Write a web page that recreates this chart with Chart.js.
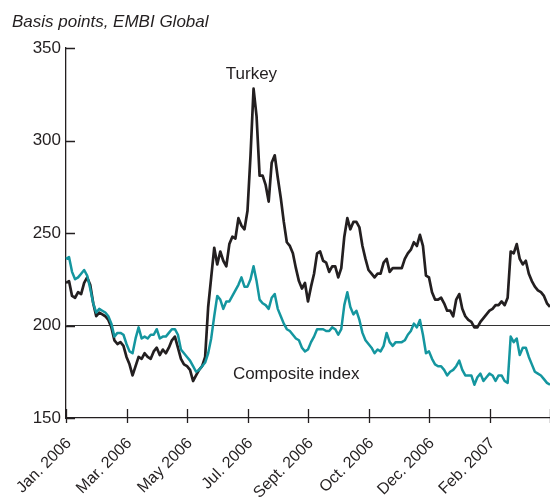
<!DOCTYPE html>
<html>
<head>
<meta charset="utf-8">
<script src="https://cdn.jsdelivr.net/npm/chart.js@4.4.1/dist/chart.umd.min.js"></script>
<style>
  html, body { margin: 0; padding: 0; background: #fff; }
  #wrap { position: relative; width: 550px; height: 498px; }
  canvas { display: block; }
</style>
</head>
<body>
<div id="wrap"><canvas id="c" width="550" height="498"></canvas></div>
<script>
// ---- data ----
const titleText = 'Basis points, EMBI Global';
const tickLabels = ['Jan. 2006', 'Mar. 2006', 'May 2006', 'Jul. 2006', 'Sept. 2006', 'Oct. 2006', 'Dec. 2006', 'Feb. 2007'];
const pointsPerTick = 20;
const categories = Array.from({ length: 161 }, (_, i) => i); // trading-day sample index
const seriesNames = ['Turkey', 'Composite index'];
const turkey = [
  223, 224, 216, 215, 218, 217, 223, 226, 222, 212,
  205, 207, 206, 205, 203, 199, 192, 190, 191, 189,
  183, 179, 173, 178, 183, 182, 185, 183, 182, 186,
  188, 184, 187, 185, 188, 192, 194, 188, 182, 179,
  178, 176, 170, 173, 176, 178, 183, 210, 226, 242,
  233, 240, 235, 232, 244, 248, 247, 258, 254, 252,
  262, 292, 328, 313, 281, 281, 276, 267, 288, 292,
  280, 269, 256, 245, 243, 239, 231, 224, 220, 223,
  213, 221, 228, 239, 240, 235, 234, 229, 232, 232,
  226, 231, 248, 258, 252, 256, 256, 253, 243, 236,
  230, 228, 226, 228, 228, 234, 236, 229, 231, 231,
  231, 231, 236, 239, 241, 245, 243, 249, 243, 227,
  226, 218, 214, 214, 215, 212, 208, 208, 205, 214,
  217, 209, 205, 203, 202, 199, 199, 202, 204, 206,
  208, 209, 211, 211, 213, 211, 215, 240, 239, 244,
  236, 233, 235, 228, 224, 221, 219, 218, 216, 212,
  210
];
const composite = [
  236, 237, 229, 225, 226, 228, 230, 227, 220, 212,
  207, 209, 208, 207, 205, 201, 194, 196, 196, 195,
  190, 186, 185, 193, 199, 193, 194, 193, 195, 195,
  198, 193, 194, 194, 196, 198, 198, 195, 187, 185,
  183, 181, 178, 175, 176, 178, 180, 185, 193, 205,
  216, 214, 209, 213, 213, 216, 219, 222, 226, 221,
  221, 225, 232, 224, 214, 212, 211, 209, 215, 217,
  209, 205, 201, 198, 197, 195, 193, 192, 188, 186,
  187, 191, 194, 198, 198, 198, 197, 197, 199, 198,
  195, 198, 211, 218, 210, 206, 208, 203, 196, 192,
  190, 188, 185, 187, 186, 189, 196, 191, 189, 191,
  191, 191, 192, 195, 197, 201, 199, 203, 195, 185,
  186, 182, 179, 178, 178, 176, 173, 175, 176, 178,
  181, 176, 173, 173, 173, 168, 172, 174, 170, 172,
  174, 173, 170, 173, 173, 170, 169, 194, 191, 193,
  184, 188, 188, 183, 179, 175, 174, 173, 171, 169,
  168
];
const yMin = 150, yMax = 350, yStep = 50, refLine = 200;

// ---- styling ----
const FONT = "'Liberation Sans', Arial, Helvetica, sans-serif";
const INK = '#231f20';
const TEAL = '#14969f';

const tickMarksAndLabels = {
  id: 'tickMarksAndLabels',
  afterDraw(chart) {
    const { ctx, chartArea, scales: { x, y } } = chart;
    ctx.save();
    ctx.strokeStyle = INK;
    ctx.lineWidth = 1.3;
    ctx.beginPath();
    y.ticks.forEach(t => {
      const py = Math.round(y.getPixelForValue(t.value)) + 0.5;
      ctx.moveTo(chartArea.left, py);
      ctx.lineTo(chartArea.left + 9, py);
    });
    for (let i = 0; i < categories.length; i += pointsPerTick) {
      const px = Math.round(x.getPixelForValue(i)) + 0.5;
      ctx.moveTo(px, chartArea.bottom - 9);
      ctx.lineTo(px, chartArea.bottom + 5);
    }
    ctx.stroke();
    // series annotations
    ctx.fillStyle = INK;
    ctx.font = '17px ' + FONT;
    ctx.textAlign = 'center';
    ctx.textBaseline = 'alphabetic';
    ctx.fillText(seriesNames[0], x.getPixelForValue(61.3), y.getPixelForValue(333.5));
    ctx.fillText(seriesNames[1], x.getPixelForValue(76.1), y.getPixelForValue(171));
    ctx.restore();
  }
};

new Chart(document.getElementById('c'), {
  type: 'line',
  data: {
    labels: categories,
    datasets: [
      {
        label: seriesNames[1], data: composite, borderColor: TEAL, borderWidth: 2.5,
        pointRadius: 0, tension: 0, borderJoinStyle: 'round', order: 1
      },
      {
        label: seriesNames[0], data: turkey, borderColor: INK, borderWidth: 2.7,
        pointRadius: 0, tension: 0, borderJoinStyle: 'round', order: 2
      }
    ]
  },
  options: {
    responsive: false,
    animation: false,
    events: [],
    layout: { padding: { left: 12, right: 0, top: 0, bottom: 0 } },
    plugins: {
      legend: { display: false },
      tooltip: { enabled: false },
      title: {
        display: true, text: titleText, align: 'start', color: INK,
        font: { family: FONT, size: 17, style: 'italic', weight: 'normal' },
        padding: { top: 12, bottom: 15.6 }
      }
    },
    scales: {
      x: {
        type: 'category',
        grid: { display: false, drawTicks: false },
        border: { display: true, color: INK, width: 1.3 },
        ticks: {
          autoSkip: false, minRotation: 45, maxRotation: 45, padding: 16, labelOffset: 3, color: INK,
          font: { family: FONT, size: 16 },
          callback: (v, i) => (i % pointsPerTick === 0 ? (tickLabels[i / pointsPerTick] ?? null) : null)
        },
        afterFit: s => { s.height = 80; s.paddingLeft = 0; s.paddingRight = 0; }
      },
      y: {
        min: yMin, max: yMax,
        grid: {
          drawTicks: false, lineWidth: 1,
          color: c => (c.tick && c.tick.value === refLine ? '#333' : 'rgba(0,0,0,0)')
        },
        border: { display: true, color: INK, width: 1.3 },
        ticks: { stepSize: yStep, padding: 5, color: INK, font: { family: FONT, size: 17 } },
        afterFit: s => { s.width = 54; }
      }
    }
  },
  plugins: [tickMarksAndLabels]
});
</script>
</body>
</html>
